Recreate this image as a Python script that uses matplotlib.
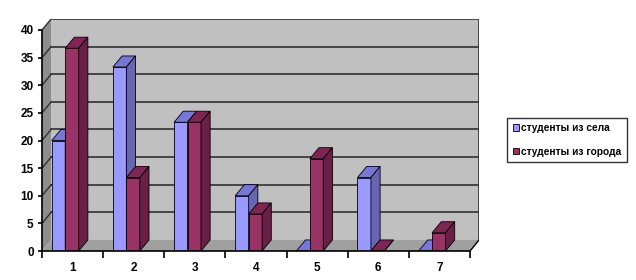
import matplotlib.pyplot as plt
from matplotlib.patches import Polygon, Patch

plt.rcParams['font.family'] = ['Liberation Sans', 'DejaVu Sans']
plt.rcParams['font.weight'] = 'bold'

categories = ['1', '2', '3', '4', '5', '6', '7']
village = [20, 33.3, 23.3, 10, 0, 13.3, 0]
city = [36.7, 13.3, 23.3, 6.7, 16.7, 0, 3.3]
series_names = ['студенты из села', 'студенты из города']

# colours: front, top, side
colors = [('#9999ff', '#7777d6', '#6666b3'),
          ('#993366', '#7d2653', '#6a1f46')]

DX, DY = 0.15, 2.0      # depth offset in data units
W = 0.22                # bar width
OFF = 0.16              # offset of first bar in category
YMAX = 40

fig = plt.figure(figsize=(6.36, 2.8), dpi=100)
W_PX, H_PX = 636, 280
left, right = 42, 42 + (7 + DX) * 61.14
bottom, top = 251, 251 - (YMAX + DY) * 5.525
ax = fig.add_axes([left / W_PX, 1 - bottom / H_PX,
                   (right - left) / W_PX, (bottom - top) / H_PX])
ax.set_xlim(0, 7 + DX)
ax.set_ylim(0, YMAX + DY)
n = len(categories)

# walls
ax.add_patch(Polygon([(0, 0), (DX, DY), (DX, YMAX + DY), (0, YMAX)],
                     closed=True, fc='#8e8e8e', ec='none', zorder=0))
ax.add_patch(Polygon([(DX, DY), (n + DX, DY), (n + DX, YMAX + DY), (DX, YMAX + DY)],
                     closed=True, fc='#c0c0c0', ec='none', zorder=0))
ax.add_patch(Polygon([(0, 0), (n, 0), (n + DX, DY), (DX, DY)],
                     closed=True, fc='#a0a0a0', ec='none', zorder=0))
for v in range(5, YMAX + 1, 5):
    ax.plot([DX, n + DX], [v + DY, v + DY], color='#303030', lw=1.2, zorder=1)
    ax.plot([0, DX], [v, v + DY], color='#303030', lw=1.0, zorder=1)
ax.plot([n + DX, n + DX], [DY, YMAX + DY], color='#303030', lw=1.2, zorder=1)
ax.plot([n, n + DX], [0, DY], color='black', lw=1.0, zorder=1)

# bars
for s, vals in enumerate([village, city]):
    front, topc, side = colors[s]
    xs = [i + OFF + s * W for i in range(n)]
    ax.bar(xs, vals, width=W, align='edge', color=front,
           edgecolor='black', linewidth=0.6, zorder=3 + s)
    for x0, v in zip(xs, vals):
        ax.add_patch(Polygon([(x0, v), (x0 + W, v), (x0 + W + DX, v + DY), (x0 + DX, v + DY)],
                             closed=True, fc=topc, ec='black', lw=0.6, zorder=3 + s))
        ax.add_patch(Polygon([(x0 + W, 0), (x0 + W + DX, DY), (x0 + W + DX, v + DY), (x0 + W, v)],
                             closed=True, fc=side, ec='black', lw=0.6, zorder=3 + s))

# axes
for sp in ['top', 'right']:
    ax.spines[sp].set_visible(False)
ax.spines['left'].set_bounds(0, YMAX)
ax.spines['bottom'].set_bounds(0, n)
ax.spines['left'].set_zorder(6)
ax.spines['bottom'].set_zorder(6)
ax.spines['left'].set_linewidth(1.2)
ax.spines['bottom'].set_linewidth(1.2)
ax.set_yticks(range(0, YMAX + 1, 5))
ax.tick_params(axis='y', length=3, width=1.2, labelsize=8.5, pad=3)
ax.set_xticks(range(n + 1))
ax.set_xticklabels([])
ax.tick_params(axis='x', which='major', length=5, width=1.2)
ax.set_xticks([i + 0.5 for i in range(n)], minor=True)
ax.set_xticklabels(categories, minor=True)
ax.tick_params(axis='x', which='minor', length=0, labelsize=8.5, pad=8)

handles = [Patch(fc=colors[s][0], ec='black', lw=0.6) for s in range(2)]
leg = fig.legend(handles, series_names, loc='center left',
                 bbox_to_anchor=(507 / W_PX, 1 - 140 / H_PX),
                 fontsize=7.3, frameon=True, fancybox=False,
                 handlelength=0.6, handleheight=0.6, handletextpad=0.2,
                 labelspacing=1.35, borderpad=0.55, borderaxespad=0)
leg.get_frame().set_edgecolor('black')
leg.get_frame().set_linewidth(1.0)

fig.savefig('out.png', dpi=100)
